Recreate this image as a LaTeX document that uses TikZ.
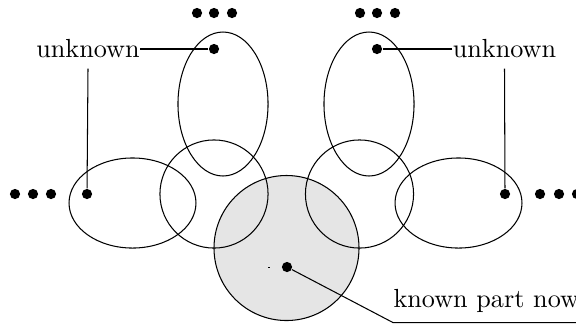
\documentclass[tikz,border=0pt]{standalone}
\usetikzlibrary{shapes.geometric}
\begin{document}
\begin{tikzpicture}[x=0.382pt, y=-0.382pt,
    blob/.style={draw, ellipse, inner sep=0pt},
    dot/.style={circle, fill, inner sep=0pt, minimum size=3.9pt},
    tag/.style={inner xsep=0pt, inner ysep=3.8pt}]
    \useasboundingbox (0,0) rectangle (576,325);

    % the known region sits behind the outlines
    \node[draw, circle, fill=gray!20, inner sep=0pt, minimum size=55.4pt] (known) at (286.5,248) {};

    \node[blob, minimum width=34.4pt, minimum height=55pt] (topL) at (223,104) {};
    \node[blob, minimum width=34.4pt, minimum height=55pt] (topR) at (369,104) {};
    \node[blob, minimum width=48.5pt, minimum height=34.4pt] (botL) at (132.5,203) {};
    \node[blob, minimum width=48.5pt, minimum height=34.4pt] (botR) at (458.5,203) {};
    \node[draw, circle, inner sep=0pt, minimum size=41.3pt] (midL) at (214,194) {};
    \node[draw, circle, inner sep=0pt, minimum size=41.3pt] (midR) at (359.5,194) {};

    % continuation marks
    \foreach \x [count=\i] in {197,214,232} \node[dot] (moreTL\i) at (\x,13) {};
    \foreach \x [count=\i] in {360,377,395} \node[dot] (moreTR\i) at (\x,13) {};
    \foreach \x [count=\i] in {15,33,51} \node[dot] (moreL\i) at (\x,194) {};
    \foreach \x [count=\i] in {540,559,577} \node[dot] (moreR\i) at (\x,194) {};

    \node[dot] (dTL) at (214,49) {};
    \node[dot] (dTR) at (377,49) {};
    \node[dot] (dL) at (87,194) {};
    \node[dot] (dR) at (505,194) {};
    \node[dot] (dK) at (287,267) {};
    \draw (268,267.5) -- (270,267.5);

    \node[tag] (unkL) at (88,49) {unknown};
    \node[tag] (unkR) at (504.5,49) {unknown};
    \node[tag, anchor=base west] (knownTxt) at (393,307) {known part now};

    \draw (unkL.east) -- (dTL);
    \draw (unkL.south) -- (dL);
    \draw (unkR.west) -- (dTR);
    \draw (unkR.south) -- (dR);
    \draw (dK) -- (knownTxt.south west) -- (knownTxt.south east);
\end{tikzpicture}
\end{document}
